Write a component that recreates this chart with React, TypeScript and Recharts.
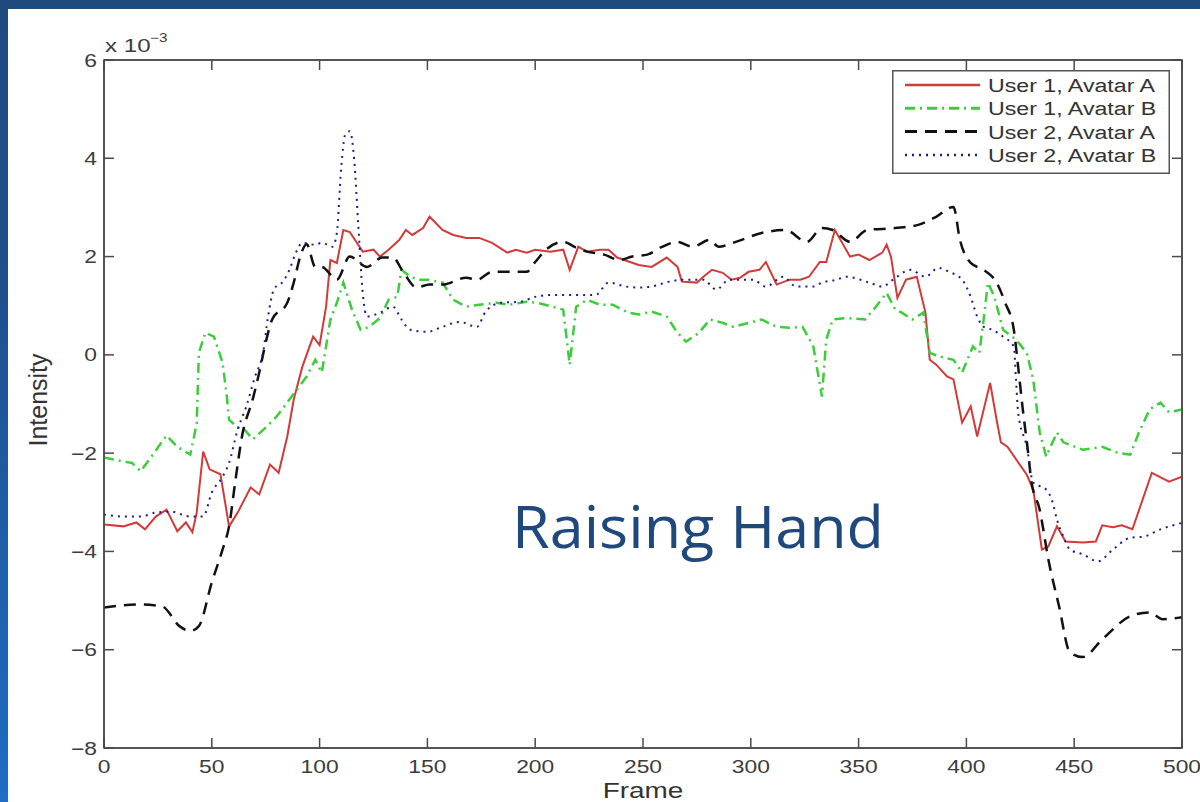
import React from "react";
import { LineChart, Line, XAxis, YAxis, Legend, ReferenceArea } from "recharts";

// [frame, intensity x 1e-3]
const user1AvatarA: [number, number][] = [
  [0, -3.45], [9, -3.49], [15, -3.41], [19, -3.55], [24, -3.29], [29, -3.15], [34, -3.59], [38, -3.41],
  [41, -3.61], [43, -3.21], [46, -1.97], [49, -2.33], [54, -2.43], [58, -3.49], [62, -3.21], [68, -2.7],
  [72, -2.84], [77, -2.23], [81, -2.4], [85, -1.66], [88, -0.91], [92, -0.24], [97, 0.37], [100, 0.2],
  [103, 0.98], [105, 1.93], [108, 1.87], [111, 2.54], [114, 2.5], [120, 2.1], [125, 2.14], [128, 2.0],
  [132, 2.14], [137, 2.34], [140, 2.54], [143, 2.44], [148, 2.58], [151, 2.81], [157, 2.54], [162, 2.44],
  [168, 2.38], [174, 2.38], [180, 2.28], [187, 2.08], [191, 2.14], [196, 2.08], [200, 2.14], [207, 2.1],
  [213, 2.14], [216, 1.73], [220, 2.2], [224, 2.1], [230, 2.14], [234, 2.14], [238, 1.98], [244, 1.89],
  [248, 1.83], [254, 1.79], [261, 1.98], [266, 1.79], [268, 1.49], [275, 1.47], [278, 1.59], [282, 1.73],
  [287, 1.67], [291, 1.53], [295, 1.57], [299, 1.69], [304, 1.73], [307, 1.89], [312, 1.43], [318, 1.53],
  [323, 1.53], [327, 1.59], [332, 1.89], [335, 1.89], [339, 2.54], [346, 2.0], [350, 2.04], [355, 1.93],
  [361, 2.08], [363, 2.24], [365, 2.0], [368, 1.16], [372, 1.53], [377, 1.59], [381, 0.86], [383, -0.1],
  [386, -0.2], [391, -0.44], [394, -0.5], [398, -1.38], [402, -1.05], [405, -1.66], [411, -0.57], [414, -1.32],
  [416, -1.78], [419, -1.87], [428, -2.44], [431, -2.74], [435, -3.96], [438, -3.9], [442, -3.49], [446, -3.8],
  [454, -3.82], [460, -3.8], [463, -3.47], [468, -3.51], [472, -3.47], [477, -3.55], [486, -2.4], [494, -2.58],
  [500, -2.48],
];

const user1AvatarB: [number, number][] = [
  [0, -2.09], [9, -2.17], [13, -2.2], [17, -2.37], [22, -2.07], [29, -1.64], [34, -1.87], [40, -2.03],
  [43, -1.4], [44, 0.04], [47, 0.45], [51, 0.37], [55, -0.16], [57, -0.85], [58, -1.32], [62, -1.48],
  [64, -1.46], [69, -1.72], [74, -1.52], [80, -1.26], [86, -0.91], [94, -0.44], [98, -0.1], [101, -0.36],
  [103, 0.17], [105, 0.72], [108, 1.06], [111, 1.47], [115, 0.92], [119, 0.51], [123, 0.57], [128, 0.75],
  [132, 1.12], [136, 1.18], [138, 1.73], [142, 1.59], [146, 1.53], [150, 1.53], [157, 1.47], [162, 1.12],
  [168, 0.98], [174, 1.02], [182, 1.06], [188, 1.02], [196, 1.08], [201, 1.06], [208, 0.98], [213, 0.92],
  [216, -0.2], [219, 0.98], [224, 1.12], [230, 1.02], [236, 1.02], [243, 0.86], [248, 0.82], [254, 0.88],
  [261, 0.78], [266, 0.45], [270, 0.27], [276, 0.45], [281, 0.72], [287, 0.65], [292, 0.57], [299, 0.65],
  [305, 0.72], [312, 0.57], [318, 0.55], [324, 0.57], [329, 0.17], [333, -0.85], [335, 0.31], [338, 0.72],
  [344, 0.75], [353, 0.72], [358, 0.98], [363, 1.26], [367, 0.92], [370, 0.86], [375, 0.72], [380, 0.86],
  [383, 0.04], [388, -0.04], [394, -0.1], [398, -0.36], [403, 0.17], [406, 0.04], [408, 0.72], [410, 1.47],
  [413, 1.18], [417, 0.51], [423, 0.31], [428, 0.04], [431, -0.5], [434, -1.58], [437, -2.07], [442, -1.58],
  [445, -1.78], [454, -1.93], [463, -1.87], [470, -1.99], [476, -2.03], [480, -1.58], [485, -1.11], [490, -0.97],
  [494, -1.17], [500, -1.11],
];

const user2AvatarA: [number, number][] = [
  [0, -5.14], [17, -5.08], [27, -5.12], [35, -5.52], [40, -5.62], [44, -5.52], [50, -4.63], [55, -3.96],
  [58, -3.49], [61, -2.54], [64, -1.66], [69, -0.9], [72, -0.36], [75, 0.25], [78, 0.72], [85, 1.06],
  [88, 1.47], [91, 2.0], [94, 2.25], [98, 1.79], [101, 1.79], [108, 1.53], [114, 2.0], [122, 1.79],
  [129, 1.98], [134, 1.98], [139, 1.67], [145, 1.37], [151, 1.43], [157, 1.43], [168, 1.57], [173, 1.53],
  [180, 1.69], [191, 1.69], [196, 1.69], [200, 1.89], [205, 2.14], [213, 2.3], [219, 2.18], [224, 2.1],
  [232, 2.04], [239, 1.93], [245, 2.0], [252, 2.04], [258, 2.18], [266, 2.3], [273, 2.2], [281, 2.34],
  [285, 2.2], [293, 2.3], [305, 2.48], [316, 2.54], [326, 2.3], [333, 2.58], [338, 2.54], [346, 2.3],
  [354, 2.54], [367, 2.58], [378, 2.65], [386, 2.81], [394, 3.01], [397, 2.34], [402, 1.87], [408, 1.73],
  [414, 1.47], [418, 1.06], [422, 0.51], [424, -0.24], [426, -1.05], [429, -2.13], [430, -2.54], [434, -3.15],
  [438, -4.16], [443, -5.12], [448, -6.05], [454, -6.15], [463, -5.79], [476, -5.32], [485, -5.24], [491, -5.38],
  [500, -5.34],
];

const user2AvatarB: [number, number][] = [
  [0, -3.25], [9, -3.29], [17, -3.29], [24, -3.21], [31, -3.19], [40, -3.29], [46, -3.29], [50, -2.8],
  [55, -2.48], [58, -2.2], [62, -1.52], [66, -1.05], [70, -0.45], [74, 0.1], [76, 0.75], [79, 1.35],
  [83, 1.49], [86, 1.73], [89, 2.08], [92, 2.28], [98, 2.24], [101, 2.28], [106, 2.2], [108, 2.48],
  [110, 3.8], [112, 4.5], [114, 4.55], [116, 4.0], [118, 2.6], [120, 1.26], [122, 0.78], [128, 0.86],
  [134, 0.98], [138, 0.72], [142, 0.51], [150, 0.47], [157, 0.57], [165, 0.67], [173, 0.57], [177, 0.88],
  [184, 1.06], [193, 1.08], [200, 1.18], [208, 1.22], [214, 1.22], [221, 1.22], [228, 1.22], [234, 1.47],
  [242, 1.39], [248, 1.37], [254, 1.39], [262, 1.49], [270, 1.53], [278, 1.53], [284, 1.33], [290, 1.53],
  [301, 1.53], [307, 1.39], [315, 1.59], [321, 1.39], [329, 1.39], [333, 1.47], [340, 1.53], [344, 1.59],
  [355, 1.47], [361, 1.39], [366, 1.53], [374, 1.73], [381, 1.59], [387, 1.77], [392, 1.69], [398, 1.53],
  [402, 1.18], [405, 0.78], [408, 0.57], [412, 0.51], [417, 0.37], [422, 0.17], [423, -0.5], [424, -1.17],
  [428, -1.87], [431, -2.6], [437, -2.74], [440, -3.0], [442, -3.35], [445, -3.7], [448, -3.96], [454, -4.06],
  [461, -4.2], [468, -3.96], [476, -3.72], [482, -3.7], [490, -3.55], [500, -3.42],
];

const xTicks = [0, 50, 100, 150, 200, 250, 300, 350, 400, 450, 500];
const yTicks = [-8, -6, -4, -2, 0, 2, 4, 6];

const FONT = "'Liberation Sans', Arial, Helvetica, sans-serif";
const AXIS = "#4a4a4a";
const STRETCH = 1.27;

const series = [
  { name: "User 1, Avatar A", points: user1AvatarA, color: "#d23a3a", width: 2, dash: undefined, curve: "linear" },
  { name: "User 1, Avatar B", points: user1AvatarB, color: "#3ccc3c", width: 2.5, dash: "10 5 2 5", curve: "linear" },
  { name: "User 2, Avatar A", points: user2AvatarA, color: "#111111", width: 2.5, dash: "12 8", curve: "monotone" },
  { name: "User 2, Avatar B", points: user2AvatarB, color: "#1c1c8c", width: 2, dash: "2 5", curve: "monotone" },
];

const toRows = (points: [number, number][]) => points.map(([frame, value]) => ({ frame, value }));

const fmt = (v: number) => (v < 0 ? `\u2212${-v}` : `${v}`);

const XTick = (props: any) => {
  const { x, y, payload } = props;
  return (
    <g transform={`translate(${x},${y}) scale(${STRETCH},1)`}>
      <text textAnchor="middle" dy={13} fontSize={18} fontFamily={FONT} fill="#3c3c3c">
        {fmt(payload.value)}
      </text>
    </g>
  );
};

const YTick = (props: any) => {
  const { x, y, payload } = props;
  return (
    <g transform={`translate(${x},${y}) scale(${STRETCH},1)`}>
      <text textAnchor="end" dy={6.5} fontSize={18} fontFamily={FONT} fill="#3c3c3c">
        {fmt(payload.value)}
      </text>
    </g>
  );
};

const NoLabel = () => <g />;

const LegendBox = () => (
  <svg width={278} height={104} style={{ display: "block" }}>
    <rect x={0.75} y={0.75} width={276.5} height={102.5} fill="#fff" stroke="#555" strokeWidth={1.5} />
    {series.map((s, i) => {
      const cy = 15 + i * 23.3;
      return (
        <g key={s.name}>
          <line x1={13} x2={88} y1={cy} y2={cy} stroke={s.color} strokeWidth={s.width + 0.5} strokeDasharray={s.dash} />
          <g transform={`translate(96,${cy}) scale(1.22,1)`}>
            <text dy={7} fontSize={19} fontFamily={FONT} fill="#333">
              {s.name}
            </text>
          </g>
        </g>
      );
    })}
  </svg>
);

export default function App() {
  return (
    <div
      style={{
        position: "fixed",
        left: 0,
        top: 0,
        width: 1200,
        height: 802,
        background: "linear-gradient(to bottom, #1f4a7e 0%, #1f4f8c 35%, #1e6cc4 100%)",
      }}
    >
      <div style={{ position: "absolute", left: 8, top: 9, width: 1192, height: 793, background: "#fff" }}>
        <LineChart width={1192} height={793} margin={{ top: 50, right: 17, bottom: 0, left: 0 }}>
          <XAxis
            xAxisId="bottom"
            dataKey="frame"
            type="number"
            domain={[0, 500]}
            ticks={xTicks}
            interval={0}
            height={54}
            tickSize={-10}
            tickMargin={22}
            axisLine={{ stroke: AXIS, strokeWidth: 1.5 }}
            tickLine={{ stroke: AXIS, strokeWidth: 1.5 }}
            tick={<XTick />}
            allowDataOverflow
          />
          <XAxis
            xAxisId="top"
            dataKey="frame"
            orientation="top"
            type="number"
            domain={[0, 500]}
            ticks={xTicks}
            interval={0}
            height={1}
            tickSize={-10}
            tickMargin={0}
            axisLine={{ stroke: AXIS, strokeWidth: 1.5 }}
            tickLine={{ stroke: AXIS, strokeWidth: 1.5 }}
            tick={<NoLabel />}
            allowDataOverflow
          />
          <YAxis
            yAxisId="left"
            type="number"
            domain={[-8, 6]}
            ticks={yTicks}
            interval={0}
            width={96}
            tickSize={-10}
            tickMargin={17}
            axisLine={{ stroke: AXIS, strokeWidth: 1.5 }}
            tickLine={{ stroke: AXIS, strokeWidth: 1.5 }}
            tick={<YTick />}
            allowDataOverflow
          />
          <YAxis
            yAxisId="right"
            orientation="right"
            type="number"
            domain={[-8, 6]}
            ticks={yTicks}
            interval={0}
            width={1}
            tickSize={-10}
            tickMargin={0}
            axisLine={{ stroke: AXIS, strokeWidth: 1.5 }}
            tickLine={{ stroke: AXIS, strokeWidth: 1.5 }}
            tick={<NoLabel />}
            allowDataOverflow
          />
          <ReferenceArea
            xAxisId="bottom"
            yAxisId="left"
            x1={0}
            x2={500}
            y1={-8}
            y2={6}
            fill="none"
            fillOpacity={0}
            stroke={AXIS}
            strokeWidth={1.5}
            ifOverflow="visible"
          />
          <Legend
            layout="vertical"
            align="center"
            verticalAlign="middle"
            content={<LegendBox />}
            wrapperStyle={{ left: 884, top: 61, width: 278, height: 104 }}
          />
          {/* invisible series so the top and right axes are drawn */}
          <Line
            xAxisId="top"
            yAxisId="right"
            data={toRows(user1AvatarA)}
            dataKey="value"
            stroke="none"
            dot={false}
            activeDot={false}
            legendType="none"
            isAnimationActive={false}
          />
          {series.map((s) => (
            <Line
              key={s.name}
              name={s.name}
              xAxisId="bottom"
              yAxisId="left"
              data={toRows(s.points)}
              dataKey="value"
              type={s.curve as any}
              stroke={s.color}
              strokeWidth={s.width}
              strokeDasharray={s.dash}
              dot={false}
              activeDot={false}
              isAnimationActive={false}
            />
          ))}
        </LineChart>
        <svg
          width={1192}
          height={793}
          style={{ position: "absolute", left: 0, top: 0, pointerEvents: "none" }}
        >
          <text transform={`translate(97,43) scale(${STRETCH},1)`} fontSize={19} fontFamily={FONT} fill="#3c3c3c">
            x 10
          </text>
          <text transform={`translate(142,33) scale(${STRETCH},1)`} fontSize={12} fontFamily={FONT} fill="#3c3c3c">
            {"\u22123"}
          </text>
          <text
            transform={`translate(635,789) scale(${STRETCH},1)`}
            textAnchor="middle"
            fontSize={22}
            fontFamily={FONT}
            fill="#333"
          >
            Frame
          </text>
          <text
            transform="translate(39,391) rotate(-90)"
            textAnchor="middle"
            fontSize={25}
            fontFamily={FONT}
            fill="#333"
          >
            Intensity
          </text>
          <text
            x={504}
            y={539}
            fontSize={59}
            fontFamily="'Open Sans', Lato, sans-serif"
            fill="#1f497d"
            textLength={372}
            lengthAdjust="spacingAndGlyphs"
          >
            Raising Hand
          </text>
        </svg>
      </div>
    </div>
  );
}
